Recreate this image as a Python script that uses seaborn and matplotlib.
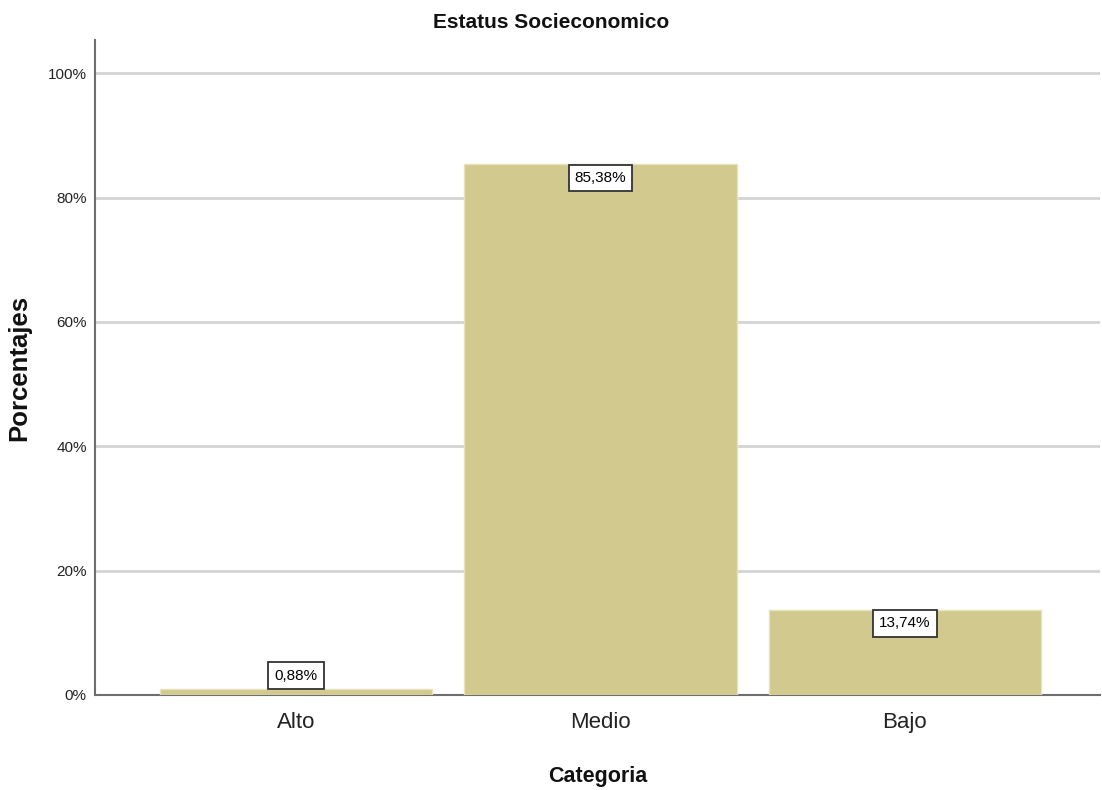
import matplotlib
matplotlib.use("Agg")
import matplotlib.pyplot as plt
import seaborn as sns
import pandas as pd
from matplotlib.ticker import FuncFormatter

categorias = ["Alto", "Medio", "Bajo"]
porcentajes = [0.88, 85.38, 13.74]
yticks = [0, 20, 40, 60, 80, 100]

sns.set_style("white")
plt.rcParams["font.family"] = ["Liberation Sans", "DejaVu Sans"]

df = pd.DataFrame({"Categoria": categorias, "Porcentajes": porcentajes})

fig = plt.figure(figsize=(11.02, 7.90), dpi=100)
ax = fig.add_axes([0.0862, 0.1203, 0.9118, 0.8287])

sns.barplot(data=df, x="Categoria", y="Porcentajes", order=categorias,
            color="#D1C98E", saturation=1, width=0.895,
            edgecolor="#E8E2B8", linewidth=1, ax=ax, zorder=3)

ax.set_xlim(-0.66, 2.64)
ax.set_ylim(0, 105.3)
ax.set_yticks(yticks)
ax.yaxis.set_major_formatter(FuncFormatter(lambda v, p: f"{v:.0f}%"))
ax.grid(axis="y", color="#D4D4D4", linewidth=2, zorder=0)
ax.set_axisbelow(True)

for side in ["top", "right"]:
    ax.spines[side].set_visible(False)
for side in ["left", "bottom"]:
    ax.spines[side].set_color("#6E6E6E")
    ax.spines[side].set_linewidth(1.5)

ax.tick_params(axis="y", labelsize=11, length=0, pad=6, colors="#222222")
ax.tick_params(axis="x", labelsize=16, length=0, pad=12, colors="#222222")

ax.set_xlabel("Categoria", fontsize=15.5, fontweight="bold", labelpad=24, color="#111111")
ax.set_ylabel("Porcentajes", fontsize=18.5, fontweight="bold", labelpad=12, color="#111111")
fig.suptitle("Estatus Socieconomico", x=0.5, y=0.984, va="top",
             fontsize=15, fontweight="bold", color="#111111")

box = dict(boxstyle="square,pad=0.4", facecolor="white", edgecolor="#333333", linewidth=1.3)
for i, v in enumerate(porcentajes):
    label = f"{v:.2f}%".replace(".", ",")
    if v > 5:
        ax.annotate(label, xy=(i, v), xytext=(0, -5), textcoords="offset points",
                    ha="center", va="top", fontsize=11, bbox=box, zorder=5, color="black")
    else:
        ax.annotate(label, xy=(i, v), xytext=(0, 5), textcoords="offset points",
                    ha="center", va="bottom", fontsize=11, bbox=box, zorder=5, color="black")

fig.savefig("out.png", dpi=100)
